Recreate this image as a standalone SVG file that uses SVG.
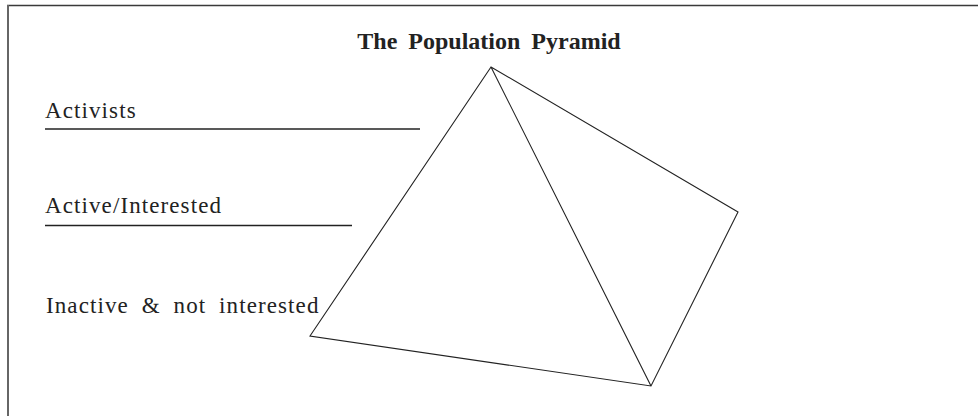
<svg xmlns="http://www.w3.org/2000/svg" width="978" height="416" viewBox="0 0 978 416">
<style>
.lbl{font-family:"Liberation Serif","Times New Roman",serif;font-size:23px;fill:#222;letter-spacing:1.1px}
.ttl{font-family:"Liberation Serif","Times New Roman",serif;font-size:24px;font-weight:bold;fill:#222;word-spacing:5px}
.edge{stroke:#222;stroke-width:1.1;fill:none}
.rule{stroke:#222;stroke-width:1.3}
</style>
<rect width="978" height="416" fill="#fff"/>
<g id="frame">
<line x1="7" y1="5.5" x2="978" y2="5.5" stroke="#3a3a3a" stroke-width="1.5"/>
<line x1="8" y1="5" x2="8" y2="416" stroke="#666" stroke-width="2"/>
</g>
<g id="title"><text class="ttl" x="489" y="49" text-anchor="middle">The Population Pyramid</text></g>
<g id="activists">
<text class="lbl" x="45" y="118">Activists</text>
<line class="rule" x1="45" y1="129" x2="420" y2="129"/>
</g>
<g id="active-interested">
<text class="lbl" x="45" y="213">Active/Interested</text>
<line class="rule" x1="45" y1="225.5" x2="352" y2="225.5"/>
</g>
<g id="inactive">
<text class="lbl" x="46" y="313" style="word-spacing:6px">Inactive &amp; not interested</text>
</g>
<g id="connectors">
<path class="edge" d="M491,67 L310,336 L651,386 L738,212 Z M491,67 L651,386"/>
</g>
</svg>
